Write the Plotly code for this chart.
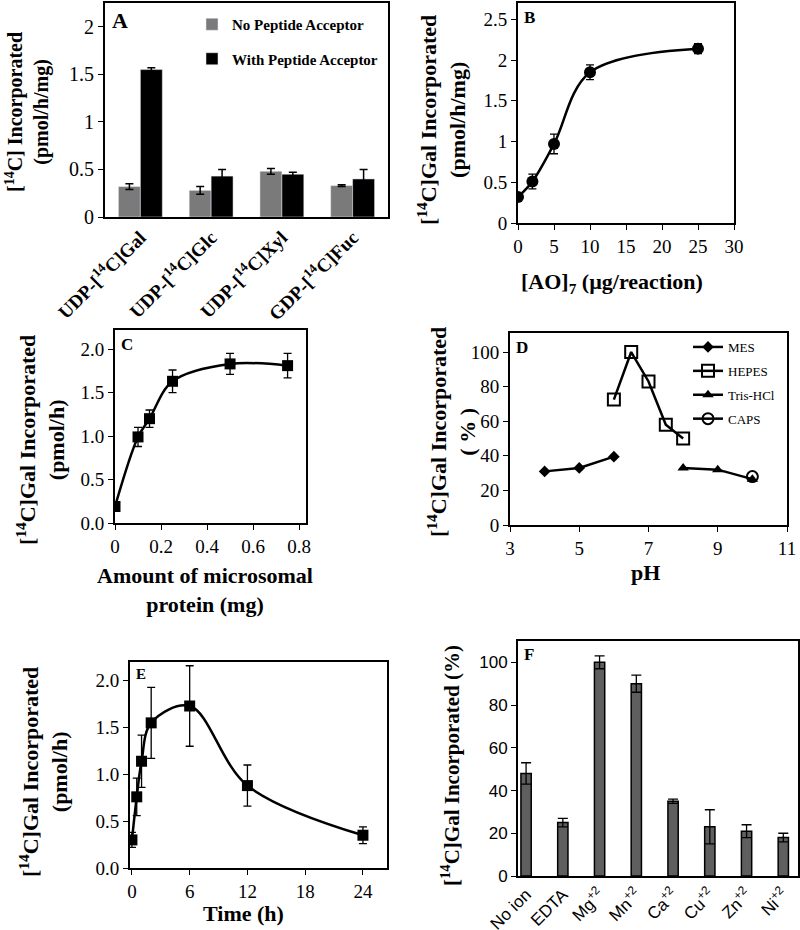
import plotly.graph_objects as go

# Panel A - sugar donors
donors = ["UDP-[<sup>14</sup>C]Gal", "UDP-[<sup>14</sup>C]Glc", "UDP-[<sup>14</sup>C]Xyl", "GDP-[<sup>14</sup>C]Fuc"]
no_acceptor = [0.32, 0.28, 0.48, 0.33]
no_acceptor_err = [0.03, 0.04, 0.03, 0.01]
with_acceptor = [1.55, 0.43, 0.45, 0.40]
with_acceptor_err = [0.02, 0.07, 0.02, 0.10]

# Panel B - acceptor concentration
ao_amount = [0, 2, 5, 10, 25]
ao_gal = [0.32, 0.51, 0.97, 1.85, 2.14]
ao_err = [0.02, 0.09, 0.12, 0.09, 0.06]

# Panel C - microsomal protein
protein = [0, 0.1, 0.15, 0.25, 0.5, 0.75]
protein_gal = [0.19, 0.99, 1.20, 1.63, 1.83, 1.81]
protein_err = [0.02, 0.11, 0.10, 0.13, 0.12, 0.14]

# Panel D - pH
mes_ph = [4, 5, 6]
mes_val = [31, 33, 39.5]
hepes_ph = [6, 6.5, 7, 7.5, 8]
hepes_val = [72.5, 100, 83, 58, 50]
tris_ph = [8, 9, 10]
tris_val = [33, 32, 26.5]
caps_ph = [10]
caps_val = [28]

# Panel E - time course
time_h = [0, 0.5, 1, 2, 6, 12, 24]
time_gal = [0.30, 0.76, 1.14, 1.55, 1.73, 0.88, 0.35]
time_err = [0.08, 0.20, 0.28, 0.38, 0.43, 0.22, 0.09]

# Panel F - metal ions
ions = ["No ion", "EDTA", "Mg<sup>+2</sup>", "Mn<sup>+2</sup>", "Ca<sup>+2</sup>",
        "Cu<sup>+2</sup>", "Zn<sup>+2</sup>", "Ni<sup>+2</sup>"]
ion_val = [48, 25, 100, 90, 35, 23, 21, 18]
ion_err = [5, 2, 3, 4, 1, 8, 3, 2]

W, H = 800, 930
serif = "Liberation Serif, Times New Roman, serif"
sans = "Liberation Sans, Arial, sans-serif"


def px_x(a, b):
    return [a / W, b / W]


def px_y(top, bottom):
    return [1 - bottom / H, 1 - top / H]


fig = go.Figure()

# A
fig.add_trace(go.Bar(x=donors, y=no_acceptor, name="No Peptide Acceptor",
                     marker=dict(color="#7a7a7a"), xaxis="x", yaxis="y",
                     error_y=dict(type="data", array=no_acceptor_err, color="black", thickness=1.5, width=4),
                     legend="legend", legendgroup="a1"))
fig.add_trace(go.Bar(x=donors, y=with_acceptor, name="With Peptide Acceptor",
                     marker=dict(color="black"), xaxis="x", yaxis="y",
                     error_y=dict(type="data", array=with_acceptor_err, color="black", thickness=1.5, width=4),
                     legend="legend", legendgroup="a2"))

# B
fig.add_trace(go.Scatter(x=ao_amount, y=ao_gal, mode="lines+markers", line=dict(color="black", width=2.5, shape="spline"),
                         marker=dict(symbol="circle", size=12, color="black"),
                         error_y=dict(type="data", array=ao_err, color="black", thickness=1.3, width=4),
                         xaxis="x2", yaxis="y2", showlegend=False))

# C
fig.add_trace(go.Scatter(x=protein, y=protein_gal, mode="lines+markers", line=dict(color="black", width=2.5, shape="spline"),
                         marker=dict(symbol="square", size=11, color="black"),
                         error_y=dict(type="data", array=protein_err, color="black", thickness=1.3, width=4),
                         xaxis="x3", yaxis="y3", showlegend=False))

# D
d_series = [
    ("MES", mes_ph, mes_val, dict(symbol="diamond", size=9, color="black")),
    ("HEPES", hepes_ph, hepes_val, dict(symbol="square-open", size=12, color="black", line=dict(width=2))),
    ("Tris-HCl", tris_ph, tris_val, dict(symbol="triangle-up", size=10, color="black")),
    ("CAPS", caps_ph, caps_val, dict(symbol="circle-open", size=11, color="black", line=dict(width=2))),
]
for name, xs, ys, mk in d_series:
    fig.add_trace(go.Scatter(x=xs, y=ys, name=name, mode="lines+markers",
                             line=dict(color="black", width=2.5), marker=mk,
                             xaxis="x4", yaxis="y4", legend="legend2", legendgroup="d_" + name))

# E
fig.add_trace(go.Scatter(x=time_h, y=time_gal, mode="lines+markers", line=dict(color="black", width=2.5, shape="spline"),
                         marker=dict(symbol="square", size=11, color="black"),
                         error_y=dict(type="data", array=time_err, color="black", thickness=1.3, width=4),
                         xaxis="x5", yaxis="y5", showlegend=False))

# F
fig.add_trace(go.Bar(x=ions, y=ion_val, marker=dict(color="#5f5f5f", line=dict(color="black", width=1.5)),
                     error_y=dict(type="data", array=ion_err, color="black", thickness=1.3, width=5),
                     xaxis="x6", yaxis="y6", showlegend=False, width=0.28))

axis_base = dict(showline=True, linecolor="black", linewidth=2, mirror=True, showgrid=False, zeroline=False,
                 ticks="outside", ticklen=5, tickcolor="black", tickwidth=1, automargin=False,
                 tickfont=dict(family=serif, size=19, color="black"))

fig.update_layout(
    width=W, height=H, margin=dict(l=0, r=0, t=0, b=0),
    plot_bgcolor="white", paper_bgcolor="white", barmode="group", bargap=0.38, bargroupgap=0,
    font=dict(family=serif, color="black"),
    xaxis=dict(axis_base, domain=px_x(105, 388), anchor="y", ticks="",
               tickangle=-45, tickfont=dict(family=serif, size=19, color="black", weight="bold")),
    yaxis=dict(axis_base, domain=px_y(3, 217), anchor="x", range=[0, 2.25], tickvals=[0, 0.5, 1, 1.5, 2],
               tickfont=dict(family=serif, size=20, color="black")),
    xaxis2=dict(axis_base, domain=px_x(518, 734), anchor="y2", range=[0, 30], tickvals=[0, 5, 10, 15, 20, 25, 30]),
    yaxis2=dict(axis_base, domain=px_y(3, 223), anchor="x2", range=[0, 2.7], tickvals=[0, 0.5, 1, 1.5, 2, 2.5]),
    xaxis3=dict(axis_base, domain=px_x(115, 306), anchor="y3", range=[0, 0.83], tickvals=[0, 0.2, 0.4, 0.6, 0.8]),
    yaxis3=dict(axis_base, domain=px_y(330, 523), anchor="x3", range=[0, 2.22], tickvals=[0, 0.5, 1, 1.5, 2],
                tickformat=".1f"),
    xaxis4=dict(axis_base, domain=px_x(510, 787), anchor="y4", range=[3, 11], tickvals=[3, 5, 7, 9, 11]),
    yaxis4=dict(axis_base, domain=px_y(333, 525), anchor="x4", range=[0, 111], tickvals=[0, 20, 40, 60, 80, 100]),
    xaxis5=dict(axis_base, domain=px_x(130, 387), anchor="y5", range=[-0.2, 26.5], tickvals=[0, 6, 12, 18, 24]),
    yaxis5=dict(axis_base, domain=px_y(662, 868), anchor="x5", range=[0, 2.2], tickvals=[0, 0.5, 1, 1.5, 2],
                tickformat=".1f"),
    xaxis6=dict(axis_base, domain=px_x(518, 798), anchor="y6", range=[-0.22, 7.4], ticks="",
                tickangle=-45, tickfont=dict(family=sans, size=17, color="black")),
    yaxis6=dict(axis_base, domain=px_y(641, 876), anchor="x6", range=[0, 110], tickvals=[0, 20, 40, 60, 80, 100],
                tickfont=dict(family=sans, size=17, color="black")),
    legend=dict(x=192 / W, y=1 - 8 / H, xanchor="left", yanchor="top", bgcolor="rgba(0,0,0,0)",
                font=dict(family=serif, size=15, color="black", weight="bold"), tracegroupgap=12, itemwidth=30),
    legend2=dict(x=688 / W, y=1 - 332 / H, xanchor="left", yanchor="top", bgcolor="rgba(0,0,0,0)",
                 font=dict(family=serif, size=13, color="black"), tracegroupgap=4, itemwidth=30),
)

annotations = [
    # y titles
    dict(x=27, y=112, text="[<sup>14</sup>C] Incorporated<br>(pmol/h/mg)", textangle=-90, size=20),
    dict(x=441, y=120, text="[<sup>14</sup>C]Gal Incorporated<br>(pmol/h/mg)", textangle=-90, size=22),
    dict(x=40, y=440, text="[<sup>14</sup>C]Gal Incorporated<br>(pmol/h)", textangle=-90, size=22),
    dict(x=451, y=432, text="[<sup>14</sup>C]Gal Incorporated<br>( % )", textangle=-90, size=22),
    dict(x=43, y=772, text="[<sup>14</sup>C]Gal Incorporated<br>(pmol/h)", textangle=-90, size=22),
    dict(x=450, y=766, text="[<sup>14</sup>C]Gal Incorporated (%)", textangle=-90, size=21),
    # x titles
    dict(x=612, y=283, text="[AO]<sub>7</sub> (µg/reaction)", size=22),
    dict(x=205, y=590, text="Amount of microsomal<br>protein (mg)", size=22),
    dict(x=645, y=572, text="pH", size=22),
    dict(x=243, y=913, text="Time (h)", size=22),
]
for a in annotations:
    fig.add_annotation(xref="paper", yref="paper", x=a["x"] / W, y=1 - a["y"] / H, text=a["text"],
                       textangle=a.get("textangle", 0), showarrow=False, xanchor="center", yanchor="middle",
                       font=dict(family=serif, size=a["size"], color="black", weight="bold"))

# panel letters
letters = [("A", 110, 6, 22), ("B", 522, 6, 17), ("C", 119, 333, 17), ("D", 514, 336, 17),
           ("E", 134, 664, 15), ("F", 522, 643, 17)]
for t, x, y, s in letters:
    fig.add_annotation(xref="paper", yref="paper", x=x / W, y=1 - y / H, text=t, showarrow=False,
                       xanchor="left", yanchor="top", font=dict(family=serif, size=s, color="black", weight="bold"))

# page body has a default 8px margin; remove it so the figure fills the window
fig.write_html("out.html", config={"displayModeBar": False},
               post_script="document.body.style.margin='0px';")
